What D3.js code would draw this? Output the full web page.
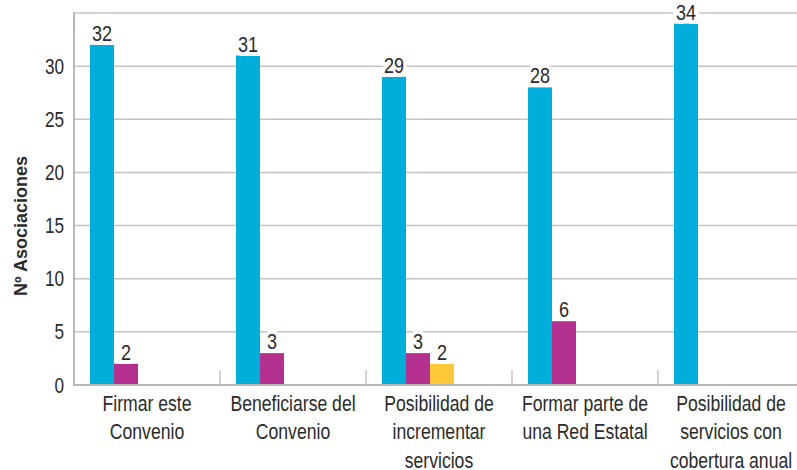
<!DOCTYPE html>
<html>
<head>
<meta charset="utf-8">
<script src="https://cdn.jsdelivr.net/npm/d3@7"></script>
<style>
  body { margin: 0; background: #fff; }
  svg { display: block; font-family: "Liberation Sans", Arial, sans-serif; }
</style>
</head>
<body>
<svg width="797" height="470"></svg>
<script>
var categories = [
    ["Firmar este", "Convenio"],
    ["Beneficiarse del", "Convenio"],
    ["Posibilidad de", "incrementar", "servicios"],
    ["Formar parte de", "una Red Estatal"],
    ["Posibilidad de", "servicios con", "cobertura anual"]
];
var series = ["s1", "s2", "s3"];
var colors = ["#00aedb", "#b4318f", "#fec838"];
var values1 = [32, 31, 29, 28, 34];
var values2 = [2, 3, 3, 6, null];
var values3 = [null, null, 2, null, null];
var yTicks = [0, 5, 10, 15, 20, 25, 30];
var gridTicks = [5, 10, 15, 20, 25, 30, 35];

var svg = d3.select("svg"),
    margin = { top: 13, left: 74, bottom: 85 },
    height = +svg.attr("height") - margin.top - margin.bottom,
    narrow = 0.8; // squeeze to look like a condensed face

var keys = categories.map(function(d, i) { return i; });

var x0 = d3.scaleBand().domain(keys).range([margin.left, margin.left + 730]).padding(0);
var x1 = d3.scaleBand().domain(series).range([16, 88]).padding(0);
var y = d3.scaleLinear().domain([0, 35]).range([margin.top + height, margin.top]);

function place(x, y) {
    return "translate(" + x + "," + y + ") scale(" + narrow + ",1)";
}

// grid
svg.append("g").selectAll("line")
    .data(gridTicks)
    .enter().append("line")
    .attr("x1", margin.left)
    .attr("x2", 797)
    .attr("y1", function(d) { return y(d); })
    .attr("y2", function(d) { return y(d); })
    .attr("stroke", "#c4c4c4")
    .attr("stroke-width", 1.5);

// bars
var rows = [];
keys.forEach(function(k) {
    [values1, values2, values3].forEach(function(arr, j) {
        if (arr[k] != null) rows.push({ k: k, s: series[j], v: arr[k], c: colors[j] });
    });
});

svg.append("g").selectAll("rect")
    .data(rows)
    .enter().append("rect")
    .attr("x", function(d) { return x0(d.k) + x1(d.s); })
    .attr("width", x1.bandwidth())
    .attr("y", function(d) { return y(d.v); })
    .attr("height", function(d) { return y(0) - y(d.v); })
    .attr("fill", function(d) { return d.c; });

// baseline + left axis
svg.append("line")
    .attr("x1", margin.left).attr("x2", 797)
    .attr("y1", y(0)).attr("y2", y(0))
    .attr("stroke", "#b8b8b8").attr("stroke-width", 2);

svg.append("line")
    .attr("x1", margin.left).attr("x2", margin.left)
    .attr("y1", y(35) - 1).attr("y2", y(0) + 1)
    .attr("stroke", "#b8b8b8").attr("stroke-width", 2);

// category separators
svg.append("g").selectAll("line")
    .data(keys.slice(1))
    .enter().append("line")
    .attr("x1", function(d) { return x0(d); })
    .attr("x2", function(d) { return x0(d); })
    .attr("y1", y(0) - 15)
    .attr("y2", y(0))
    .attr("stroke", "#c4c4c4")
    .attr("stroke-width", 1.5);

// value labels
svg.append("g").selectAll("text")
    .data(rows)
    .enter().append("text")
    .attr("transform", function(d) {
        return place(x0(d.k) + x1(d.s) + x1.bandwidth() / 2, y(d.v) - 4);
    })
    .attr("text-anchor", "middle")
    .attr("font-size", 22.5)
    .attr("fill", "#2b2b2b")
    .attr("stroke", "#fff")
    .attr("stroke-width", 8)
    .attr("paint-order", "stroke")
    .text(function(d) { return d.v; });

// y axis
svg.append("g").selectAll("text")
    .data(yTicks)
    .enter().append("text")
    .attr("transform", function(d) { return place(margin.left - 10, y(d) + 7.5); })
    .attr("text-anchor", "end")
    .attr("font-size", 21.5)
    .attr("fill", "#2b2b2b")
    .text(function(d) { return d; });

// x labels
svg.append("g").selectAll("g")
    .data(keys)
    .enter().append("g")
    .attr("transform", function(d) { return place(x0(d) + x0.bandwidth() / 2, 411); })
    .each(function(d) {
        d3.select(this).selectAll("text")
            .data(categories[d])
            .enter().append("text")
            .attr("y", function(t, i) { return i * 28.5; })
            .attr("text-anchor", "middle")
            .attr("font-size", 22)
            .attr("fill", "#2b2b2b")
            .text(function(t) { return t; });
    });

// y title
svg.append("text")
    .attr("transform", "translate(27,226) rotate(-90)")
    .attr("text-anchor", "middle")
    .attr("font-weight", "bold")
    .attr("font-size", 18)
    .attr("fill", "#2b2b2b")
    .text("Nº Asociaciones");
</script>
</body>
</html>
